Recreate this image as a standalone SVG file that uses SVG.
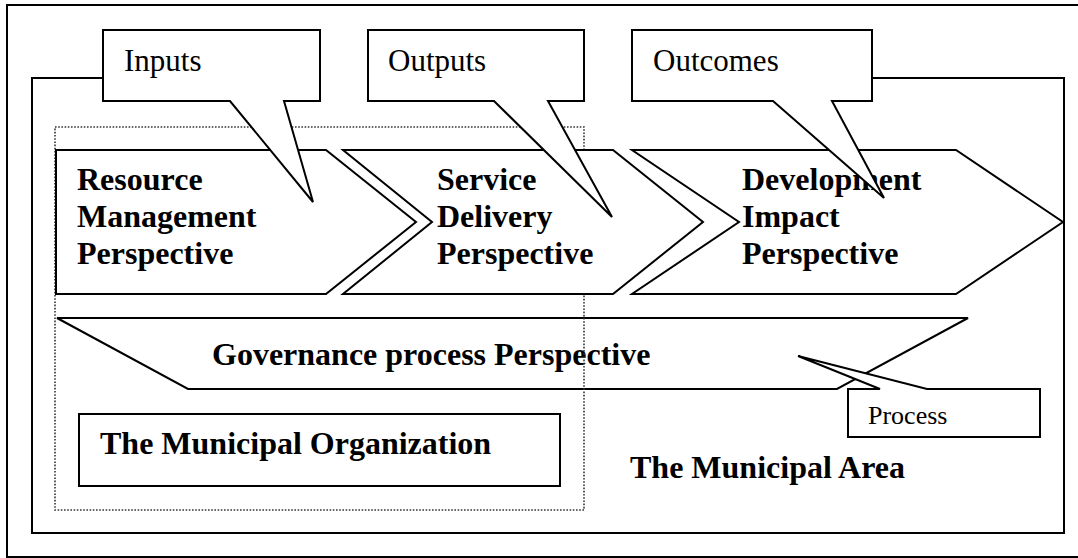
<svg xmlns="http://www.w3.org/2000/svg" width="1078" height="558" viewBox="0 0 1078 558">
<defs>
<style>
.ln{fill:none;stroke:#000;stroke-width:2}
.wf{fill:#fff;stroke:#000;stroke-width:2;stroke-linejoin:miter}
.dot{fill:none;stroke:#333;stroke-width:1.6;stroke-dasharray:1.6 1.6}
.b{font-family:"Liberation Serif","Times New Roman",serif;font-weight:bold;font-size:32px;fill:#000}
.r{font-family:"Liberation Serif","Times New Roman",serif;font-size:31px;fill:#000}
.rs{font-family:"Liberation Serif","Times New Roman",serif;font-size:26px;fill:#000}
</style>
</defs>
<rect width="1078" height="558" fill="#fff"/>
<g id="outer-frame"><path class="ln" d="M1090,5 H7 V557 H1090"/></g>
<g id="municipal-area">
<path class="ln" d="M103,78 H32 V533 H1064 V78 H872"/>
<text class="b" x="630" y="478">The Municipal Area</text>
</g>
<g id="governance">
<polygon class="ln" points="57,318 968,318 837,389 188,389"/>
<text class="b" x="212" y="365">Governance process Perspective</text>
</g>
<g id="municipal-organization">
<rect class="dot" x="55" y="127" width="529" height="383"/>
<rect class="ln" x="79" y="414" width="481" height="72"/>
<text class="b" x="100" y="454">The Municipal Organization</text>
</g>
<g id="resource-management">
<polygon class="wf" points="56,150 326,150 416,222 326,294 56,294"/>
<text class="b" x="77" y="190">Resource</text>
<text class="b" x="77" y="227">Management</text>
<text class="b" x="77" y="264">Perspective</text>
</g>
<g id="service-delivery">
<polygon class="wf" points="343,150 613,150 703,222 613,294 343,294 432,222"/>
<text class="b" x="437" y="190">Service</text>
<text class="b" x="437" y="227">Delivery</text>
<text class="b" x="437" y="264">Perspective</text>
</g>
<g id="development-impact">
<polygon class="wf" points="632,150 956,150 1063,222 956,294 632,294 739,222"/>
<text class="b" x="742" y="190">Development</text>
<text class="b" x="742" y="227">Impact</text>
<text class="b" x="742" y="264">Perspective</text>
</g>
<g id="connectors"></g>
<g id="inputs">
<path class="wf" d="M103,30 H320 V101 H284 L313,202 L230,101 H103 Z"/>
<text class="r" x="124" y="71">Inputs</text>
</g>
<g id="outputs">
<path class="wf" d="M368,30 H584 V101 H548 L612,217 L494,101 H368 Z"/>
<text class="r" x="388" y="71">Outputs</text>
</g>
<g id="outcomes">
<path class="wf" d="M632,30 H872 V101 H832 L884,198 L773,101 H632 Z"/>
<text class="r" x="653" y="71">Outcomes</text>
</g>
<g id="process">
<path class="wf" d="M848,389 H880 L798,356 L927,389 H1040 V437 H848 Z"/>
<text class="rs" x="868" y="424">Process</text>
</g>
</svg>
